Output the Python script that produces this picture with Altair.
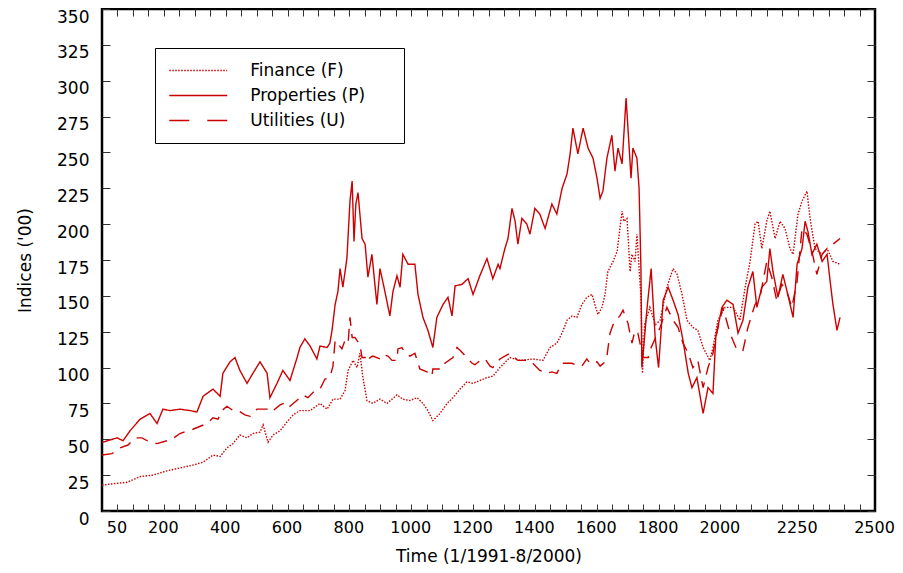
import altair as alt
import pandas as pd

# ---- data (trading-day index, index level in '00) ----
F_T = [0, 36, 81, 123, 165, 210, 252, 294, 327, 359,
       382, 404, 424, 446, 469, 488, 511, 521, 537, 553,
       576, 598, 618, 640, 673, 705, 728, 747, 770, 786,
       796, 812, 825, 834, 844, 857, 876, 899, 922, 954,
       973, 996, 1019, 1038, 1054, 1070, 1093, 1116, 1135, 1158,
       1180, 1200, 1222, 1245, 1264, 1287, 1319, 1352, 1394, 1426,
       1449, 1471, 1488, 1504, 1520, 1536, 1552, 1568, 1585, 1594,
       1604, 1617, 1627, 1636, 1653, 1666, 1675, 1682, 1688, 1698,
       1701, 1708, 1714, 1724, 1730, 1737, 1743, 1748, 1755, 1772,
       1790, 1805, 1827, 1847, 1860, 1876, 1892, 1911, 1927, 1944,
       1966, 1976, 1992, 2015, 2041, 2063, 2080, 2096, 2112, 2122,
       2134, 2150, 2160, 2177, 2193, 2209, 2225, 2235, 2251, 2264,
       2280, 2290, 2306, 2329, 2345, 2364, 2387]
F_V = [18, 19, 20, 24, 25, 28, 30, 32, 34, 39,
       38, 44, 47, 53, 51, 54, 55, 60, 48, 53,
       56, 62, 67, 70, 70, 75, 71, 78, 78, 84,
       98, 105, 100, 110, 93, 77, 75, 78, 75, 81,
       78, 77, 79, 75, 70, 63, 68, 75, 79, 85,
       90, 89, 91, 93, 94, 100, 107, 105, 106, 105,
       114, 117, 124, 133, 136, 135, 144, 149, 151, 144,
       137, 142, 151, 167, 174, 181, 197, 209, 202, 204,
       193, 167, 179, 174, 193, 169, 150, 96, 130, 142,
       130, 133, 156, 169, 165, 151, 133, 128, 126, 114,
       105, 114, 133, 142, 142, 133, 156, 174, 200, 202,
       183, 202, 209, 190, 202, 197, 183, 179, 207, 216,
       223, 204, 183, 179, 183, 174, 172]

P_T = [0, 3, 49, 68, 91, 123, 155, 178, 197, 220,
       252, 285, 307, 327, 359, 382, 391, 414, 430, 446,
       469, 488, 511, 534, 543, 566, 585, 608, 631, 640,
       656, 673, 695, 705, 728, 737, 744, 754, 763, 770,
       779, 792, 802, 809, 815, 821, 828, 841, 851, 860,
       873, 889, 899, 915, 931, 941, 954, 964, 973, 990,
       1012, 1022, 1038, 1054, 1070, 1083, 1103, 1119, 1132, 1142,
       1164, 1184, 1200, 1222, 1245, 1264, 1281, 1287, 1303, 1313,
       1326, 1336, 1345, 1358, 1374, 1384, 1400, 1416, 1433, 1455,
       1471, 1488, 1504, 1514, 1523, 1539, 1556, 1572, 1588, 1601,
       1611, 1620, 1633, 1649, 1659, 1669, 1682, 1695, 1701, 1711,
       1717, 1730, 1737, 1743, 1746, 1763, 1776, 1789, 1800, 1815,
       1831, 1847, 1863, 1879, 1896, 1908, 1924, 1944, 1960, 1976,
       1985, 2005, 2021, 2041, 2057, 2073, 2089, 2105, 2118, 2134,
       2150, 2160, 2170, 2186, 2202, 2218, 2235, 2248, 2264, 2274,
       2283, 2296, 2312, 2329, 2345, 2355, 2364, 2377, 2387]
P_V = [48, 48, 51, 49, 56, 64, 68, 61, 71, 70,
       71, 70, 69, 80, 85, 80, 96, 104, 107, 98,
       89, 96, 104, 96, 79, 89, 98, 91, 107, 114,
       120, 115, 106, 115, 114, 117, 126, 144, 153, 169,
       156, 176, 216, 230, 188, 214, 222, 190, 186, 163,
       179, 144, 169, 153, 136, 153, 164, 156, 179, 172,
       172, 151, 135, 126, 114, 135, 144, 149, 136, 157,
       158, 162, 151, 164, 176, 162, 172, 169, 183, 190,
       211, 202, 186, 204, 200, 193, 211, 207, 197, 214,
       207, 225, 235, 249, 267, 249, 267, 253, 246, 232,
       218, 223, 246, 262, 237, 253, 242, 288, 267, 232,
       253, 246, 225, 169, 100, 142, 169, 121, 100, 147,
       156, 147, 137, 119, 96, 86, 93, 68, 86, 82,
       121, 142, 147, 144, 124, 133, 156, 167, 142, 156,
       160, 183, 167, 149, 165, 151, 135, 172, 183, 202,
       195, 179, 186, 174, 179, 160, 144, 126, 135]

U_T = [0, 32, 58, 84, 107, 129, 155, 178, 210, 226,
       252, 278, 294, 340, 359, 375, 388, 404, 424, 440,
       462, 479, 501, 534, 543, 553, 576, 598, 608, 640,
       650, 666, 689, 705, 721, 737, 747, 754, 776, 786,
       796, 802, 809, 818, 834, 841, 851, 857, 867, 876,
       899, 909, 925, 938, 954, 957, 970, 980, 996, 1012,
       1028, 1051, 1067, 1070, 1100, 1109, 1135, 1148, 1158, 1167,
       1197, 1206, 1229, 1239, 1255, 1264, 1287, 1319, 1345, 1384,
       1416, 1439, 1455, 1471, 1488, 1504, 1520, 1539, 1552, 1568,
       1578, 1601, 1611, 1627, 1633, 1643, 1653, 1666, 1675, 1685,
       1701, 1714, 1724, 1733, 1750, 1767, 1772, 1805, 1827, 1847,
       1863, 1879, 1896, 1911, 1927, 1944, 1960, 1976, 1988, 2008,
       2031, 2054, 2073, 2089, 2112, 2128, 2150, 2166, 2182, 2199,
       2215, 2231, 2248, 2264, 2280, 2296, 2312, 2329, 2345, 2364,
       2387]
U_V = [39, 40, 44, 46, 51, 51, 48, 47, 49, 50,
       54, 56, 57, 61, 65, 64, 70, 73, 70, 70,
       67, 66, 71, 71, 69, 70, 74, 76, 73, 79,
       81, 79, 84, 85, 92, 93, 101, 119, 113, 119,
       117, 135, 121, 121, 116, 107, 107, 104, 107, 108,
       106, 109, 108, 105, 105, 113, 114, 110, 108, 110,
       99, 97, 94, 99, 99, 103, 107, 114, 112, 110,
       103, 102, 106, 106, 101, 100, 106, 110, 105, 105,
       98, 96, 97, 96, 103, 103, 103, 101, 101, 106,
       103, 104, 101, 104, 108, 124, 130, 134, 136, 140,
       131, 117, 126, 124, 107, 107, 112, 128, 142, 133,
       128, 117, 110, 100, 105, 86, 100, 110, 124, 142,
       124, 112, 112, 128, 144, 149, 174, 163, 147, 158,
       153, 142, 160, 197, 193, 181, 165, 179, 183, 186,
       190]

SERIES = ["Finance (F)", "Properties (P)", "Utilities (U)"]
X_LABELS = [50, 200, 400, 600, 800, 1000, 1200, 1400, 1600, 1800, 2000, 2250, 2500]
X_MINOR = list(range(50, 2500, 50))
Y_TICKS = list(range(0, 351, 25))

rows = []
for name, ts, vs in zip(SERIES, [F_T, P_T, U_T], [F_V, P_V, U_V]):
    assert len(ts) == len(vs), name
    for t, v in zip(ts, vs):
        rows.append({"t": t, "v": v, "series": name})
df = pd.DataFrame(rows)

RED = "#cc0000"
FONT = "DejaVu Sans"
W, H = 773, 502
PAD = "\u2800" * 2   # blank (invisible) cells to widen the legend frame

xs = alt.Scale(domain=[0, 2500], nice=False, zero=False)
ys = alt.Scale(domain=[0, 350], nice=False, zero=False)

base = alt.Chart(df)

lines = base.mark_line(color=RED, strokeWidth=1.4).encode(
    x=alt.X("t:Q", scale=xs, axis=alt.Axis(
        orient="bottom", values=X_LABELS, format="d", ticks=False, domain=False, grid=False,
        labelFlush=False, labelOverlap=False, labelPadding=8, labelOffset=-1, labelFont=FONT,
        labelFontSize=16, labelColor="black", title="Time (1/1991-8/2000)", titleFont=FONT,
        titleFontSize=17, titleFontWeight="normal", titleColor="black", titlePadding=13)),
    y=alt.Y("v:Q", scale=ys, axis=alt.Axis(
        orient="left", values=Y_TICKS, format="d", ticks=False, domain=False, grid=False,
        labelFlush=False, labelOverlap=False, labelPadding=13, labelOffset=8, labelFont=FONT,
        labelFontSize=17, labelColor="black", title="Indices ('00)", titleFont=FONT,
        titleFontSize=17, titleFontWeight="normal", titleColor="black", titlePadding=22)),
    strokeDash=alt.StrokeDash("series:N", scale=alt.Scale(
        domain=SERIES, range=[[1.5, 1.5], [1, 0], [12, 8]]), legend=None),
)

# inward ticks on bottom + left, and the legend
ticks_a = base.mark_line(opacity=0).encode(
    x=alt.X("t:Q", scale=xs, axis=alt.Axis(
        orient="top", offset=-H, values=X_MINOR, labels=False, domain=False, grid=False,
        tickSize=7, tickColor="#333333", tickWidth=1, title=None)),
    y=alt.Y("v:Q", scale=ys, axis=alt.Axis(
        orient="right", offset=-W, values=Y_TICKS, labels=False, domain=False, grid=False,
        tickSize=8, tickColor="#333333", tickWidth=1, title=None)),
    strokeDash=alt.StrokeDash("series:N", scale=alt.Scale(
        domain=SERIES, range=[[1.5, 1.5], [1, 0], [20, 18]]), legend=alt.Legend(
        orient="none", legendX=53, legendY=39, title=None, strokeColor="black",
        fillColor="white", padding=14, symbolType="M-4,0H4", symbolSize=210,
        symbolStrokeWidth=1.4, symbolStrokeColor=RED, symbolOpacity=1,
        symbolOffset=20.75, labelOffset=43.5, rowPadding=7, labelFont=FONT,
        labelFontSize=17, labelColor="black", labelLimit=300,
        labelExpr="datum.label + '" + PAD + "'")),
)

# inward ticks on top + right
ticks_b = base.mark_line(opacity=0).encode(
    x=alt.X("t:Q", scale=xs, axis=alt.Axis(
        orient="bottom", offset=-H, values=X_MINOR, labels=False, domain=False, grid=False,
        tickSize=7, tickColor="#333333", tickWidth=1, title=None)),
    y=alt.Y("v:Q", scale=ys, axis=alt.Axis(
        orient="left", offset=-W, values=Y_TICKS, labels=False, domain=False, grid=False,
        tickSize=8, tickColor="#333333", tickWidth=1, title=None)),
    detail="series:N",
)

chart = alt.layer(lines, ticks_a, ticks_b).resolve_axis(
    x="independent", y="independent"
).resolve_scale(strokeDash="independent").properties(
    width=W, height=H, autosize="none", background="white",
    padding={"left": 94, "top": 1, "right": 20, "bottom": 54},
).configure_view(stroke="black", strokeWidth=2.5)

chart.save("out.html", embed_options={"renderer": "svg", "actions": False})
